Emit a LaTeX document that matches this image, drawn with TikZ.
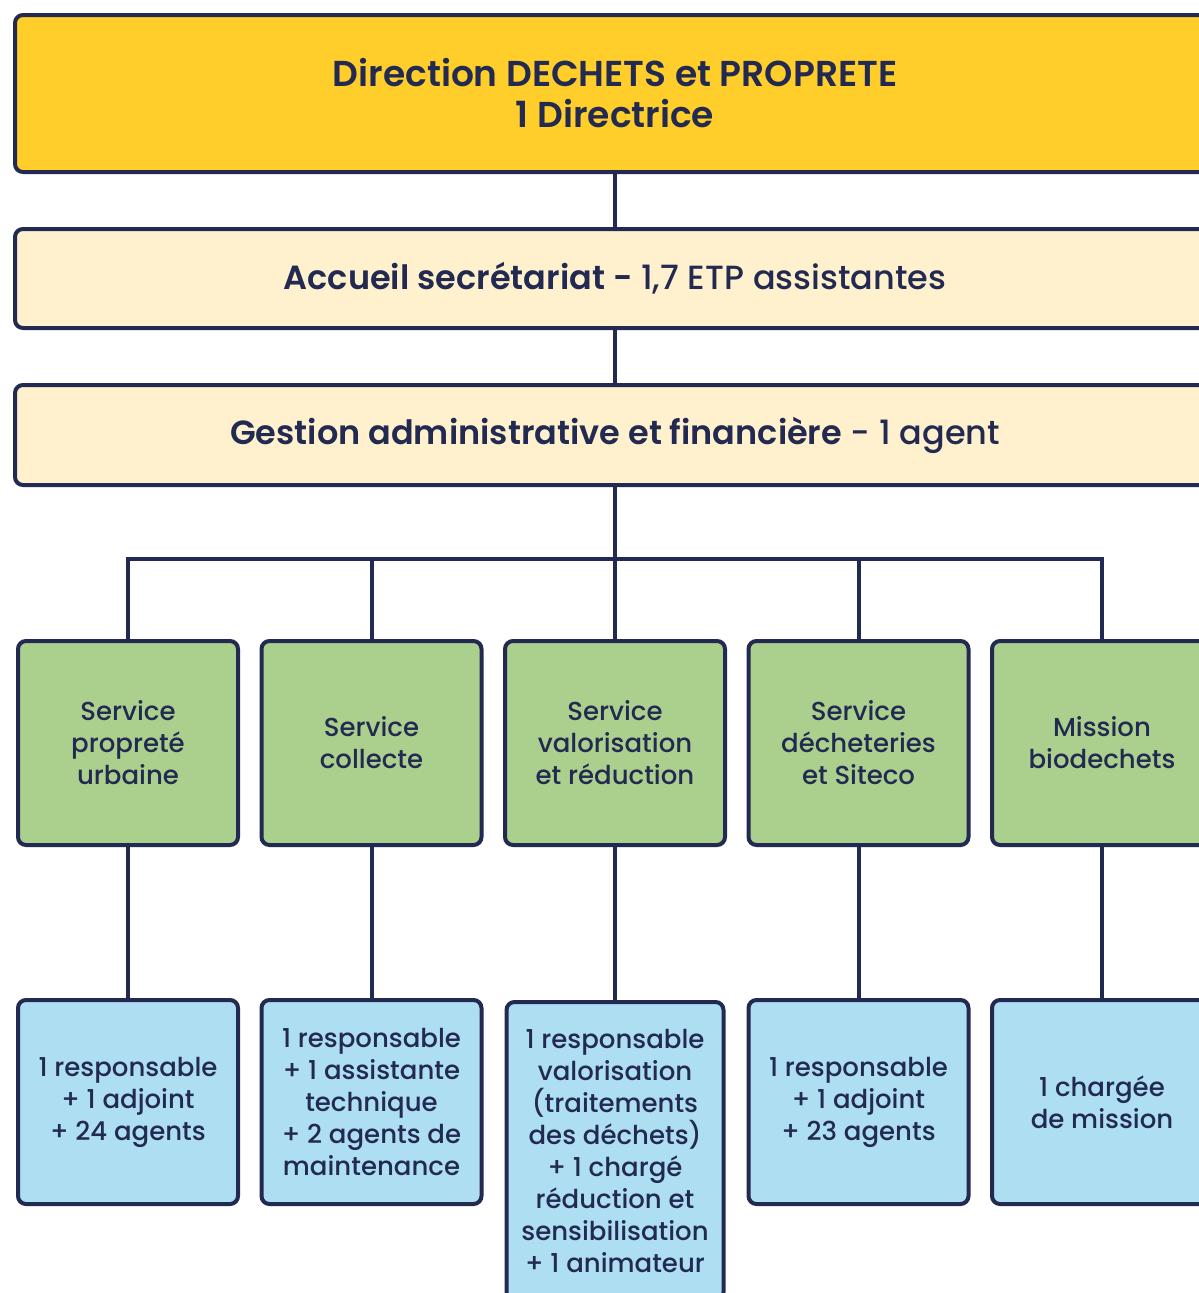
\documentclass[tikz,border=0pt]{standalone}
\usepackage{fontspec}
\setmainfont{Poppins}[UprightFont={* Medium}, BoldFont={* SemiBold}]
\usepackage{tikz}
\definecolor{marine}{HTML}{232A51}
\definecolor{jaune}{HTML}{FFCE2B}
\definecolor{creme}{HTML}{FFF1CD}
\definecolor{vert}{HTML}{ABCF8D}
\definecolor{bleu}{HTML}{AEDEF1}
\tikzstyle{line} = [draw=marine, line width=4pt]
\tikzstyle{direction} = [rectangle, draw=marine, line width=4pt, rounded corners=8pt, fill=jaune, text=marine, minimum width=1200pt, minimum height=157pt, align=center, font=\fontsize{36}{41}\selectfont\bfseries]
\tikzstyle{bandeau} = [rectangle, draw=marine, line width=4pt, rounded corners=8pt, fill=creme, text=marine, minimum width=1200pt, minimum height=100pt, align=center, font=\fontsize{33.5}{38}\selectfont]
\tikzstyle{service} = [rectangle, draw=marine, line width=4pt, rounded corners=8pt, fill=vert, text=marine, minimum width=220pt, minimum height=204pt, align=center, font=\fontsize{26}{32}\selectfont]
\tikzstyle{equipe} = [rectangle, draw=marine, line width=4pt, rounded corners=8pt, fill=bleu, text=marine, minimum width=220pt, minimum height=204pt, align=center, font=\fontsize{26}{32}\selectfont]

\begin{document}
\begin{tikzpicture}
	\useasboundingbox (0,0) rectangle (1199pt,-1293pt);
	\clip (0,0) rectangle (1199pt,-1293pt);
	
	\node [direction] (dir) at (615pt,-93.5pt) {Direction DECHETS et PROPRETE \\ 1 Directrice};
	
	\node [bandeau, below of = dir, node distance = 185pt, minimum height = 99pt] (accueil) {\textbf{Accueil secrétariat -} 1,7 ETP assistantes};
	
	\node [bandeau, below of = accueil, node distance = 156.5pt] (gestion) {\textbf{Gestion administrative et financière} - 1 agent};
	
	\path [line] (dir.south) to (accueil.north);
	\path [line] (accueil.south) to (gestion.north);
	
	\node [service, below of = gestion, node distance = 308pt] (valo) {Service \\ valorisation \\ et réduction};
	\node [service, left of = valo, node distance = 243.5pt] (collecte) {Service \\ collecte};
	\node [service, left of = collecte, node distance = 243.5pt] (proprete) {Service \\ propreté \\ urbaine};
	\node [service, right of = valo, node distance = 243.5pt] (decheteries) {Service \\ décheteries \\ et Siteco};
	\node [service, right of = decheteries, node distance = 243.5pt] (biodechets) {Mission \\ biodechets};
	
	\path [line] (gestion.south) -- ++(0,-72pt) coordinate (bus);
	\path [line] (bus) -| (proprete.north);
	\path [line] (bus) -| (collecte.north);
	\path [line] (bus) -- (valo.north);
	\path [line] (bus) -| (decheteries.north);
	\path [line] (bus) -| (biodechets.north);
	
	\node [equipe, below of = proprete, node distance = 359pt] (eqproprete) {1 responsable \\ + 1 adjoint \\ + 24 agents};
	\node [equipe, below of = collecte, node distance = 359pt] (eqcollecte) {1 responsable \\ + 1 assistante \\ technique \\ + 2 agents de \\ maintenance};
	\node [equipe, below of = valo, node distance = 408pt, minimum width = 217pt, minimum height = 298pt] (eqvalo) {1 responsable \\ valorisation \\ (traitements \\ des déchets) \\ + 1 chargé \\ réduction et \\ sensibilisation \\ + 1 animateur};
	\node [equipe, below of = decheteries, node distance = 359pt] (eqdecheteries) {1 responsable \\ + 1 adjoint \\ + 23 agents};
	\node [equipe, below of = biodechets, node distance = 359pt] (eqbiodechets) {1 chargée \\ de mission};
	
	\path [line] (proprete.south) to (eqproprete.north);
	\path [line] (collecte.south) to (eqcollecte.north);
	\path [line] (valo.south) to (eqvalo.north);
	\path [line] (decheteries.south) to (eqdecheteries.north);
	\path [line] (biodechets.south) to (eqbiodechets.north);
\end{tikzpicture}
\end{document}
